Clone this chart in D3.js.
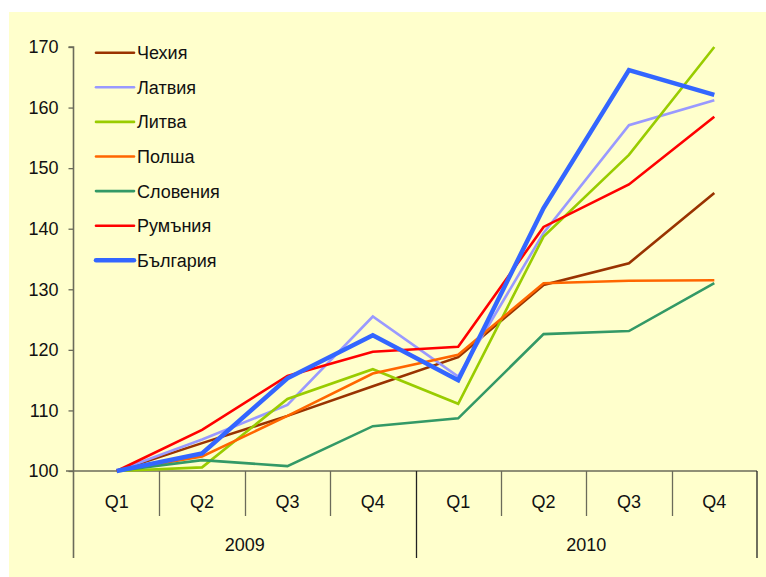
<!DOCTYPE html>
<html>
<head>
<meta charset="utf-8">
<script src="https://cdn.jsdelivr.net/npm/d3@7"></script>
<style>
  html, body { margin: 0; padding: 0; background: #fff; }
  svg { display: block; }
  text { font-family: "Liberation Sans", Arial, sans-serif; fill: #111; }
</style>
</head>
<body>
<svg id="chart" width="766" height="577"></svg>
<script>
// quarters and years
const quarters = ['Q1', 'Q2', 'Q3', 'Q4', 'Q1', 'Q2', 'Q3', 'Q4'];
const years = ['2009', '2010'];
const yTicks = [100, 110, 120, 130, 140, 150, 160, 170];

// index values, Q1 2009 = 100
const czech    = [100, 104.6, 109.1, 114.0, 118.8, 130.7, 134.3, 145.9];
const latvia   = [100, 105.2, 110.9, 125.5, 115.6, 139.3, 157.1, 161.2];
const lithuania= [100, 100.6, 111.9, 116.8, 111.1, 138.7, 152.2, 170.0];
const poland   = [100, 102.4, 109.1, 116.1, 119.2, 131.0, 131.4, 131.5];
const slovenia = [100, 101.8, 100.8, 107.4, 108.7, 122.6, 123.1, 131.0];
const romania  = [100, 106.8, 115.7, 119.7, 120.5, 140.3, 147.3, 158.5];
const bulgaria = [100, 102.9, 115.3, 122.4, 115.0, 143.4, 166.2, 162.1];

const series = [
  { name: 'Чехия',    values: czech,     color: '#993300', w: 2.6 },
  { name: 'Латвия',   values: latvia,    color: '#9999FF', w: 2.6 },
  { name: 'Литва',    values: lithuania, color: '#99CC00', w: 2.6 },
  { name: 'Полша',    values: poland,    color: '#FF6600', w: 2.6 },
  { name: 'Словения', values: slovenia,  color: '#339966', w: 2.6 },
  { name: 'Румъния',  values: romania,   color: '#FF0000', w: 2.6 },
  { name: 'България', values: bulgaria,  color: '#3366FF', w: 4.5 }
];

const svg = d3.select('#chart');
const FONT = 18;

// plot area background
svg.append('rect')
  .attr('x', 9).attr('y', 12)
  .attr('width', 766 - 9).attr('height', 577 - 12)
  .attr('fill', '#FFFFCC');

const x = d3.scaleBand()
  .domain(d3.range(quarters.length))
  .range([74, 757])
  .paddingInner(0).paddingOuter(0);

const y = d3.scaleLinear()
  .domain([100, 170])
  .range([471, 47]);

const g = svg.append('g');

// y axis
const yAxis = g.append('g')
  .attr('transform', 'translate(73.5,0)')
  .call(d3.axisLeft(y).tickValues(yTicks).tickSize(5).tickPadding(10).tickFormat(d3.format('d')));
yAxis.select('.domain').attr('stroke', '#6b6b5a').attr('stroke-width', 1.6)
  .attr('d', `M-5,${y(170)}H0V558`);
yAxis.selectAll('.tick line').attr('stroke', '#6b6b5a').attr('stroke-width', 1.3);
yAxis.selectAll('.tick text')
  .style('font-family', '"Liberation Sans", Arial, sans-serif')
  .attr('font-size', FONT).attr('fill', '#111');

// x axis line
g.append('line')
  .attr('x1', 66).attr('x2', 757)
  .attr('y1', y(100)).attr('y2', y(100))
  .attr('stroke', '#6b6b5a').attr('stroke-width', 1.6);

// quarter separators
const qBounds = d3.range(1, quarters.length).filter(i => i % 4 !== 0);
g.selectAll('.qsep')
  .data(qBounds)
  .join('line')
  .attr('x1', i => Math.round(x(i)) + 0.5).attr('x2', i => Math.round(x(i)) + 0.5)
  .attr('y1', y(100)).attr('y2', 516)
  .attr('stroke', '#6b6b5a').attr('stroke-width', 1.3);

// year separators
g.selectAll('.ysep')
  .data([4, 8])
  .join('line')
  .attr('x1', i => i === 8 ? 757 : Math.round(x(i)) + 0.5)
  .attr('x2', i => i === 8 ? 757 : Math.round(x(i)) + 0.5)
  .attr('y1', y(100)).attr('y2', 558)
  .attr('stroke', '#222').attr('stroke-width', 1.3);

// quarter labels
g.selectAll('.qlab')
  .data(quarters)
  .join('text')
  .attr('x', (d, i) => x(i) + x.bandwidth() / 2)
  .attr('y', 508)
  .attr('text-anchor', 'middle')
  .attr('font-size', FONT)
  .text(d => d);

// year labels
g.selectAll('.ylab')
  .data(years)
  .join('text')
  .attr('x', (d, i) => (x(i * 4) + x(i * 4 + 3) + x.bandwidth()) / 2)
  .attr('y', 551)
  .attr('text-anchor', 'middle')
  .attr('font-size', FONT)
  .text(d => d);

// lines
const line = d3.line()
  .x((d, i) => x(i) + x.bandwidth() / 2)
  .y(d => y(d));

g.selectAll('.series')
  .data(series)
  .join('path')
  .attr('fill', 'none')
  .attr('stroke', d => d.color)
  .attr('stroke-width', d => d.w)
  .attr('stroke-linejoin', 'miter')
  .attr('d', d => line(d.values));

// legend
const legend = g.append('g').attr('transform', 'translate(96,52.7)');
const rows = legend.selectAll('g')
  .data(series)
  .join('g')
  .attr('transform', (d, i) => `translate(0,${i * 34.6})`);
rows.append('line')
  .attr('x1', 0).attr('x2', 38)
  .attr('stroke', d => d.color)
  .attr('stroke-width', d => d.w)
  .attr('stroke-linecap', 'round');
rows.append('text')
  .attr('x', 41).attr('y', 6.5)
  .attr('font-size', FONT)
  .text(d => d.name);
</script>
</body>
</html>
